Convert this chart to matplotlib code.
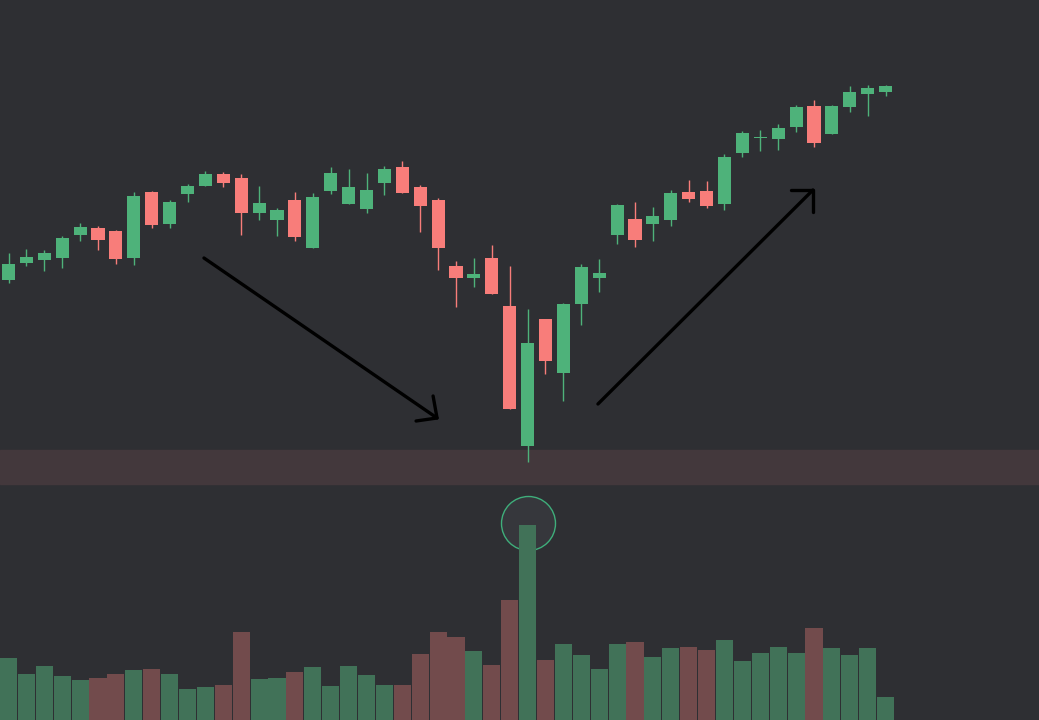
import numpy as np
import matplotlib.pyplot as plt

# --- candle data (price units) ---
opens = [220, 237, 240, 242, 265, 272, 269, 242, 308, 276,
         306, 314, 326, 322, 287, 280, 300, 252, 309, 296,
         291, 317, 333, 313, 300, 234, 222, 242, 194, 54,
         181, 127, 196, 222, 265, 281, 276, 280, 308, 309,
         296, 347, 362, 361, 373, 394, 366, 393, 406, 408]
highs = [247, 251, 250, 264, 277, 274, 270, 308, 309, 300,
         316, 329, 328, 326, 314, 292, 308, 307, 333, 331,
         327, 334, 339, 315, 302, 239, 242, 255, 234, 191,
         181, 197, 236, 241, 296, 298, 293, 310, 320, 319,
         346, 369, 370, 376, 395, 400, 395, 414, 415, 415]
lows = [217, 234, 229, 232, 259, 250, 236, 235, 272, 272,
        298, 314, 313, 265, 280, 264, 259, 252, 306, 296,
        287, 305, 307, 268, 230, 193, 213, 206, 91, 38,
        126, 99, 175, 208, 256, 253, 259, 274, 298, 292,
        290, 343, 349, 350, 368, 353, 366, 388, 384, 404]
closes = [236, 243, 247, 262, 273, 260, 241, 304, 275, 298,
          314, 326, 317, 287, 297, 290, 263, 303, 327, 313,
          310, 331, 307, 294, 252, 222, 226, 206, 91, 157,
          139, 196, 233, 227, 295, 260, 284, 307, 301, 294,
          343, 367, 363, 372, 393, 357, 394, 408, 412, 414]
volumes = [62, 46, 54, 44, 40, 42, 46, 50, 51, 46,
           31, 33, 35, 88, 41, 42, 48, 53, 34, 54,
           45, 35, 35, 66, 88, 83, 69, 55, 120, 195,
           60, 76, 65, 51, 76, 78, 63, 72, 73, 70,
           80, 59, 67, 73, 67, 92, 72, 65, 72, 23]

# highlighted zone and hand-drawn arrows (x = candle index, y = price)
zone = (16, 50)
arrow_down = [(10.92, 242), (23.94, 82)]
arrow_down_head = [(22.77, 79), (23.94, 82), (23.72, 104)]
arrow_up = [(32.93, 96), (44.94, 310)]
arrow_up_head = [(43.71, 310), (44.94, 310), (44.94, 288)]
peak_idx = 29

BG = "#2e2f33"
GREEN = "#4eb27a"
RED = "#f87d7a"
VGREEN = "#417258"
VRED = "#724b4c"

fig = plt.figure(figsize=(10.39, 7.2), dpi=100, facecolor=BG)
ax = fig.add_axes([0, 0, 1, 1])
axv = fig.add_axes([0, 0, 1, 1])
for a in (ax, axv):
    a.set_facecolor("none")
    a.axis("off")
    a.set_xlim(-0.475, 57.57)
ax.set_zorder(2)
axv.set_zorder(1)

x = np.arange(len(opens))
o = np.array(opens)
c = np.array(closes)
up = c >= o
col = np.where(up, GREEN, RED)
vcol = np.where(up, VGREEN, VRED)

# volume
axv.set_ylim(0, 720)
axv.scatter([peak_idx], [197], s=1512, facecolor="#36373c", edgecolor="#3fae7b",
            linewidth=1.0, zorder=1)
axv.bar(x, volumes, width=0.95, color=vcol, zorder=2)

# price
ax.set_ylim(-220, 500)
ax.axhspan(zone[0], zone[1], color="#43383c", zorder=0)
ax.vlines(x, lows, highs, color=col, linewidth=1.0, zorder=2)
body = np.maximum(np.abs(c - o), 1)
ax.bar(x, body, bottom=np.minimum(o, c), width=0.73, color=col, zorder=3)

for pts in (arrow_down, arrow_down_head, arrow_up, arrow_up_head):
    xs, ys = zip(*pts)
    ax.plot(xs, ys, color="black", linewidth=2.4, solid_capstyle="round",
            solid_joinstyle="round", zorder=4)

fig.savefig("out.png", dpi=100, facecolor=BG)
